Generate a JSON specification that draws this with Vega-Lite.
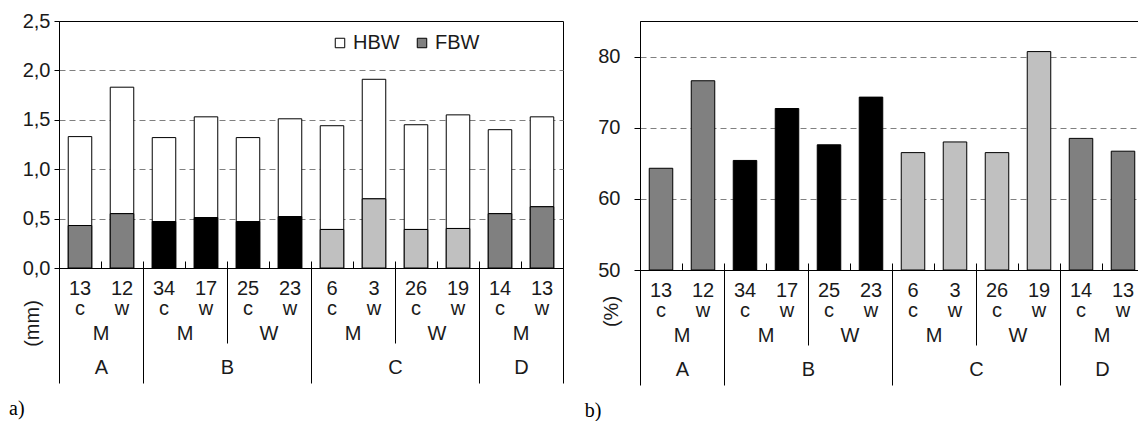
{
  "$schema": "https://vega.github.io/schema/vega-lite/v6.json",
  "padding": {"left": 8, "top": 10, "right": 0, "bottom": 0},
  "background": "white",
  "spacing": 20,
  "config": {
    "font": "Liberation Sans",
    "view": {"stroke": "black", "strokeWidth": 1},
    "axis": {"labelFont": "Liberation Sans", "labelFontSize": 20, "labelColor": "#1a1a1a", "domainColor": "black", "tickColor": "black", "titleFont": "Liberation Sans", "titleFontSize": 20, "titleFontWeight": "normal", "titleColor": "#1a1a1a", "grid": false},
    "legend": {"labelFont": "Liberation Sans", "labelFontSize": 20, "labelColor": "#1a1a1a"}
  },
  "datasets": {
    "mm": [
      {"site": "A", "grp": "A|M", "id": "A|M|13|c", "part": "FBW", "mm": 0.43},
      {"site": "A", "grp": "A|M", "id": "A|M|13|c", "part": "HBW", "mm": 0.90},
      {"site": "A", "grp": "A|M", "id": "A|M|12|w", "part": "FBW", "mm": 0.55},
      {"site": "A", "grp": "A|M", "id": "A|M|12|w", "part": "HBW", "mm": 1.28},
      {"site": "B", "grp": "B|M", "id": "B|M|34|c", "part": "FBW", "mm": 0.47},
      {"site": "B", "grp": "B|M", "id": "B|M|34|c", "part": "HBW", "mm": 0.85},
      {"site": "B", "grp": "B|M", "id": "B|M|17|w", "part": "FBW", "mm": 0.51},
      {"site": "B", "grp": "B|M", "id": "B|M|17|w", "part": "HBW", "mm": 1.02},
      {"site": "B", "grp": "B|W", "id": "B|W|25|c", "part": "FBW", "mm": 0.47},
      {"site": "B", "grp": "B|W", "id": "B|W|25|c", "part": "HBW", "mm": 0.85},
      {"site": "B", "grp": "B|W", "id": "B|W|23|w", "part": "FBW", "mm": 0.52},
      {"site": "B", "grp": "B|W", "id": "B|W|23|w", "part": "HBW", "mm": 0.99},
      {"site": "C", "grp": "C|M", "id": "C|M|6|c", "part": "FBW", "mm": 0.39},
      {"site": "C", "grp": "C|M", "id": "C|M|6|c", "part": "HBW", "mm": 1.05},
      {"site": "C", "grp": "C|M", "id": "C|M|3|w", "part": "FBW", "mm": 0.70},
      {"site": "C", "grp": "C|M", "id": "C|M|3|w", "part": "HBW", "mm": 1.21},
      {"site": "C", "grp": "C|W", "id": "C|W|26|c", "part": "FBW", "mm": 0.39},
      {"site": "C", "grp": "C|W", "id": "C|W|26|c", "part": "HBW", "mm": 1.06},
      {"site": "C", "grp": "C|W", "id": "C|W|19|w", "part": "FBW", "mm": 0.40},
      {"site": "C", "grp": "C|W", "id": "C|W|19|w", "part": "HBW", "mm": 1.15},
      {"site": "D", "grp": "D|M", "id": "D|M|14|c", "part": "FBW", "mm": 0.55},
      {"site": "D", "grp": "D|M", "id": "D|M|14|c", "part": "HBW", "mm": 0.85},
      {"site": "D", "grp": "D|M", "id": "D|M|13|w", "part": "FBW", "mm": 0.62},
      {"site": "D", "grp": "D|M", "id": "D|M|13|w", "part": "HBW", "mm": 0.91}
    ],
    "pct": [
      {"site": "A", "grp": "A|M", "id": "A|M|13|c", "pct": 64.3},
      {"site": "A", "grp": "A|M", "id": "A|M|12|w", "pct": 76.6},
      {"site": "B", "grp": "B|M", "id": "B|M|34|c", "pct": 65.4},
      {"site": "B", "grp": "B|M", "id": "B|M|17|w", "pct": 72.7},
      {"site": "B", "grp": "B|W", "id": "B|W|25|c", "pct": 67.6},
      {"site": "B", "grp": "B|W", "id": "B|W|23|w", "pct": 74.3},
      {"site": "C", "grp": "C|M", "id": "C|M|6|c", "pct": 66.5},
      {"site": "C", "grp": "C|M", "id": "C|M|3|w", "pct": 68.0},
      {"site": "C", "grp": "C|W", "id": "C|W|26|c", "pct": 66.5},
      {"site": "C", "grp": "C|W", "id": "C|W|19|w", "pct": 80.7},
      {"site": "D", "grp": "D|M", "id": "D|M|14|c", "pct": 68.5},
      {"site": "D", "grp": "D|M", "id": "D|M|13|w", "pct": 66.7}
    ]
  },
  "hconcat": [
    {
      "width": 504,
      "height": 247,
      "data": {"name": "mm"},
      "title": {"text": "a)", "orient": "bottom", "anchor": "start", "frame": "bounds", "offset": 15, "dx": -13, "font": "Liberation Serif", "fontSize": 20, "fontWeight": "normal", "color": "black"},
      "layer": [
        {
          "mark": {"type": "bar", "stroke": "black", "strokeWidth": 1},
          "encoding": {
            "x": {"field": "id", "type": "nominal", "sort": null, "scale": {"paddingInner": 0.44, "paddingOuter": 0.22},
              "axis": {"orient": "bottom", "title": null, "labelExpr": "[split(datum.value,'|')[2], split(datum.value,'|')[3]]", "labelAngle": 0, "ticks": false, "tickSize": 0, "labelPadding": 10, "labelLineHeight": 20, "domain": true}},
            "y": {"field": "mm", "type": "quantitative", "stack": "zero", "scale": {"domain": [0, 2.5], "nice": false},
              "axis": {"title": "(mm)", "titleX": -27, "titleY": 302, "titleBaseline": "middle", "titleAlign": "center", "values": [0, 0.5, 1, 1.5, 2, 2.5], "labelExpr": "replace(format(datum.value, '.1f'), '.', ',')", "tickSize": 5, "labelPadding": 4, "grid": true, "gridColor": "#808080", "gridDash": [6, 4], "gridOpacity": {"condition": {"test": "datum.value == 0 || datum.value == 2.5", "value": 0}, "value": 1}}},
            "fill": {"field": "part", "type": "nominal", "scale": {"domain": ["HBW", "FBW"], "range": ["white", "#808080"]},
              "legend": {"orient": "none", "legendX": 271, "legendY": 12, "direction": "horizontal", "title": null, "symbolType": "square", "symbolSize": 90, "symbolStrokeColor": "black", "symbolStrokeWidth": 1, "labelOffset": 3, "columnPadding": 12, "padding": 0}},
            "order": {"field": "part", "sort": "ascending"}
          }
        },
        {
          "transform": [{"filter": "datum.part == 'FBW'"}],
          "mark": {"type": "bar", "stroke": "black", "strokeWidth": 1},
          "encoding": {
            "x": {"field": "id", "type": "nominal", "sort": null, "scale": {"paddingInner": 0.44, "paddingOuter": 0.22}, "axis": null},
            "y": {"field": "mm", "type": "quantitative"},
            "fill": {"field": "site", "type": "nominal", "scale": {"domain": ["A", "B", "C", "D"], "range": ["#808080", "#000000", "#c0c0c0", "#808080"]}, "legend": null}
          }
        },
        {
          "mark": {"type": "point", "opacity": 0},
          "encoding": {
            "y": {"datum": 0, "type": "quantitative"},
            "x": {"field": "grp", "type": "nominal", "sort": null, "scale": {"type": "band", "paddingInner": 0, "paddingOuter": 0},
              "axis": {"orient": "bottom", "title": null, "labelExpr": "split(datum.value,'|')[1]", "labelAngle": 0, "ticks": false, "tickSize": 0, "domain": false, "labelPadding": 55}}
          }
        },
        {
          "mark": {"type": "point", "opacity": 0},
          "encoding": {
            "y": {"datum": 0, "type": "quantitative"},
            "x": {"datum": 0, "type": "quantitative", "scale": {"domain": [0, 12], "nice": false, "zero": false},
              "axis": {"orient": "bottom", "title": null, "values": [0, 1, 2, 3, 4, 5, 6, 7, 8, 9, 10, 11, 12], "labels": false, "domain": false, "ticks": true, "tickSize": 7, "offset": -7}}
          }
        },
        {
          "mark": {"type": "point", "opacity": 0},
          "encoding": {
            "y": {"datum": 0, "type": "quantitative"},
            "x": {"datum": 0, "type": "quantitative", "scale": {"domain": [0, 12], "nice": false, "zero": false},
              "axis": {"orient": "bottom", "title": null, "values": [4, 8], "labels": false, "domain": false, "ticks": true, "tickSize": 75}}
          }
        },
        {
          "mark": {"type": "point", "opacity": 0},
          "encoding": {
            "y": {"datum": 0, "type": "quantitative"},
            "x": {"datum": 0, "type": "quantitative", "scale": {"domain": [0, 12], "nice": false, "zero": false},
              "axis": {"orient": "bottom", "title": null, "values": [0, 2, 6, 10, 12], "labels": false, "domain": false, "ticks": true, "tickSize": 115}}
          }
        },
        {
          "mark": {"type": "point", "opacity": 0},
          "encoding": {
            "y": {"datum": 0, "type": "quantitative"},
            "x": {"datum": 0, "type": "quantitative", "scale": {"domain": [0, 12], "nice": false, "zero": false},
              "axis": {"orient": "bottom", "title": null, "values": [1, 4, 8, 11], "labelExpr": "datum.value == 1 ? 'A' : datum.value == 4 ? 'B' : datum.value == 8 ? 'C' : 'D'", "labelFlush": false, "labelOverlap": false, "domain": false, "ticks": false, "tickSize": 0, "labelPadding": 89}}
          }
        }
      ],
      "resolve": {"scale": {"x": "independent", "fill": "independent"}}
    },
    {
      "width": 504,
      "height": 249,
      "data": {"name": "pct"},
      "title": {"text": "b)", "orient": "bottom", "anchor": "start", "frame": "bounds", "offset": 15, "dx": -13, "font": "Liberation Serif", "fontSize": 20, "fontWeight": "normal", "color": "black"},
      "layer": [
        {
          "mark": {"type": "bar", "stroke": "black", "strokeWidth": 1},
          "encoding": {
            "x": {"field": "id", "type": "nominal", "sort": null, "scale": {"paddingInner": 0.44, "paddingOuter": 0.22},
              "axis": {"orient": "bottom", "title": null, "labelExpr": "[split(datum.value,'|')[2], split(datum.value,'|')[3]]", "labelAngle": 0, "ticks": false, "tickSize": 0, "labelPadding": 10, "labelLineHeight": 20, "domain": true}},
            "y": {"field": "pct", "type": "quantitative", "scale": {"domain": [50, 85], "nice": false, "zero": false},
              "axis": {"title": "(%)", "titleX": -29, "titleY": 290, "titleBaseline": "middle", "titleAlign": "center", "values": [50, 60, 70, 80], "tickSize": 6, "labelPadding": 14, "grid": true, "gridColor": "#808080", "gridDash": [6, 4], "gridOpacity": {"condition": {"test": "datum.value == 50", "value": 0}, "value": 1}}},
            "y2": {"datum": 50},
            "fill": {"field": "site", "type": "nominal", "scale": {"domain": ["A", "B", "C", "D"], "range": ["#808080", "#000000", "#c0c0c0", "#808080"]}, "legend": null}
          }
        },
        {
          "mark": {"type": "point", "opacity": 0},
          "encoding": {
            "y": {"datum": 50, "type": "quantitative"},
            "x": {"field": "grp", "type": "nominal", "sort": null, "scale": {"type": "band", "paddingInner": 0, "paddingOuter": 0},
              "axis": {"orient": "bottom", "title": null, "labelExpr": "split(datum.value,'|')[1]", "labelAngle": 0, "ticks": false, "tickSize": 0, "domain": false, "labelPadding": 55}}
          }
        },
        {
          "mark": {"type": "point", "opacity": 0},
          "encoding": {
            "y": {"datum": 50, "type": "quantitative"},
            "x": {"datum": 0, "type": "quantitative", "scale": {"domain": [0, 12], "nice": false, "zero": false},
              "axis": {"orient": "bottom", "title": null, "values": [0, 1, 2, 3, 4, 5, 6, 7, 8, 9, 10, 11, 12], "labels": false, "domain": false, "ticks": true, "tickSize": 7, "offset": -7}}
          }
        },
        {
          "mark": {"type": "point", "opacity": 0},
          "encoding": {
            "y": {"datum": 50, "type": "quantitative"},
            "x": {"datum": 0, "type": "quantitative", "scale": {"domain": [0, 12], "nice": false, "zero": false},
              "axis": {"orient": "bottom", "title": null, "values": [4, 8], "labels": false, "domain": false, "ticks": true, "tickSize": 75}}
          }
        },
        {
          "mark": {"type": "point", "opacity": 0},
          "encoding": {
            "y": {"datum": 50, "type": "quantitative"},
            "x": {"datum": 0, "type": "quantitative", "scale": {"domain": [0, 12], "nice": false, "zero": false},
              "axis": {"orient": "bottom", "title": null, "values": [0, 2, 6, 10, 12], "labels": false, "domain": false, "ticks": true, "tickSize": 115}}
          }
        },
        {
          "mark": {"type": "point", "opacity": 0},
          "encoding": {
            "y": {"datum": 50, "type": "quantitative"},
            "x": {"datum": 0, "type": "quantitative", "scale": {"domain": [0, 12], "nice": false, "zero": false},
              "axis": {"orient": "bottom", "title": null, "values": [1, 4, 8, 11], "labelExpr": "datum.value == 1 ? 'A' : datum.value == 4 ? 'B' : datum.value == 8 ? 'C' : 'D'", "labelFlush": false, "labelOverlap": false, "domain": false, "ticks": false, "tickSize": 0, "labelPadding": 89}}
          }
        }
      ],
      "resolve": {"scale": {"x": "independent"}}
    }
  ]
}
